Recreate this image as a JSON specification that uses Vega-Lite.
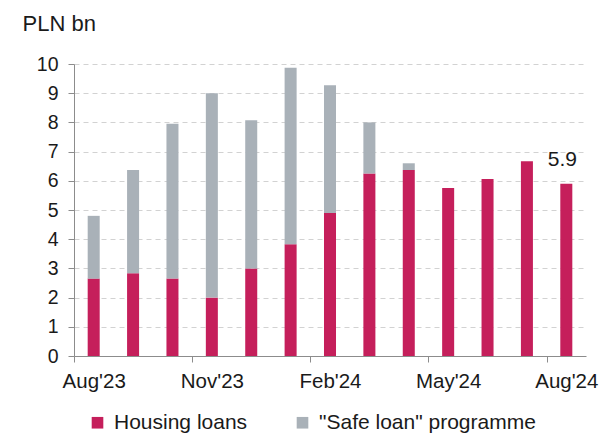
{
  "$schema": "https://vega.github.io/schema/vega-lite/v6.json",
  "autosize": "none",
  "width": 512,
  "height": 292,
  "padding": {"left": 74, "top": 64, "right": 19, "bottom": 78},
  "background": "white",
  "config": {
    "view": {"stroke": null},
    "font": "Liberation Sans",
    "axis": {
      "labelFont": "Liberation Sans",
      "labelFontSize": 20,
      "labelColor": "#1a1a1a",
      "domainColor": "#8c8c8c",
      "tickColor": "#8c8c8c",
      "tickSize": 6,
      "labelPadding": 9
    },
    "legend": {
      "labelFont": "Liberation Sans",
      "labelFontSize": 21,
      "labelColor": "#1a1a1a"
    }
  },
  "encoding": {
    "x": {
      "field": "month",
      "type": "ordinal",
      "sort": ["Aug'23","Sep'23","Oct'23","Nov'23","Dec'23","Jan'24","Feb'24","Mar'24","Apr'24","May'24","Jun'24","Jul'24","Aug'24"],
      "scale": {"paddingInner": 0.695, "paddingOuter": 0.3475},
      "axis": {
        "title": null,
        "labelAngle": 0,
        "values": ["Aug'23","Nov'23","Feb'24","May'24","Aug'24"],
        "bandPosition": 0.5,
        "tickOffset": -19.7,
        "labelOffset": 19.7,
        "labelFontSize": 20.5,
        "labelOverlap": false,
        "grid": false
      }
    },
    "y": {
      "field": "value",
      "type": "quantitative",
      "stack": "zero",
      "scale": {"domain": [0, 10], "nice": false},
      "axis": {
        "values": [0,1,2,3,4,5,6,7,8,9,10],
        "tickCount": 20,
        "format": "d",
        "labelOverlap": false,
        "labelFontSize": 19.5,
        "grid": true,
        "gridDash": [5, 4],
        "gridColor": "#d2d2d2",
        "labelPadding": 10,
        "title": "PLN bn",
        "titleAngle": 0,
        "titleAlign": "left",
        "titleBaseline": "alphabetic",
        "titleX": -52,
        "titleY": -34,
        "titleFont": "Liberation Sans",
        "titleFontSize": 22,
        "titleFontWeight": "normal",
        "titleColor": "#1a1a1a"
      }
    }
  },
  "layer": [
    {
      "data": {
        "values": [
          {"month": "Aug'23", "series": "Housing loans", "value": 2.65},
          {"month": "Aug'23", "series": "\"Safe loan\" programme", "value": 2.15},
          {"month": "Sep'23", "series": "Housing loans", "value": 2.83},
          {"month": "Sep'23", "series": "\"Safe loan\" programme", "value": 3.54},
          {"month": "Oct'23", "series": "Housing loans", "value": 2.65},
          {"month": "Oct'23", "series": "\"Safe loan\" programme", "value": 5.3},
          {"month": "Nov'23", "series": "Housing loans", "value": 2.0},
          {"month": "Nov'23", "series": "\"Safe loan\" programme", "value": 7.0},
          {"month": "Dec'23", "series": "Housing loans", "value": 3.0},
          {"month": "Dec'23", "series": "\"Safe loan\" programme", "value": 5.07},
          {"month": "Jan'24", "series": "Housing loans", "value": 3.83},
          {"month": "Jan'24", "series": "\"Safe loan\" programme", "value": 6.04},
          {"month": "Feb'24", "series": "Housing loans", "value": 4.9},
          {"month": "Feb'24", "series": "\"Safe loan\" programme", "value": 4.37},
          {"month": "Mar'24", "series": "Housing loans", "value": 6.25},
          {"month": "Mar'24", "series": "\"Safe loan\" programme", "value": 1.75},
          {"month": "Apr'24", "series": "Housing loans", "value": 6.37},
          {"month": "Apr'24", "series": "\"Safe loan\" programme", "value": 0.23},
          {"month": "May'24", "series": "Housing loans", "value": 5.75},
          {"month": "Jun'24", "series": "Housing loans", "value": 6.06},
          {"month": "Jul'24", "series": "Housing loans", "value": 6.67},
          {"month": "Aug'24", "series": "Housing loans", "value": 5.9}
        ]
      },
      "mark": {"type": "bar"},
      "encoding": {
        "color": {
          "field": "series",
          "type": "nominal",
          "scale": {
            "domain": ["Housing loans", "\"Safe loan\" programme"],
            "range": ["#c51f5b", "#a9b1b8"]
          },
          "legend": {
            "title": null,
            "orient": "none",
            "direction": "horizontal",
            "legendX": 13,
            "legendY": 348,
            "symbolType": "square",
            "symbolSize": 135,
            "symbolStrokeWidth": 0,
            "labelOffset": 6,
            "columnPadding": 44,
            "labelLimit": 400,
            "padding": 0
          }
        },
        "order": {"field": "series", "sort": "descending"}
      }
    },
    {
      "data": {"values": [{"month": "Aug'24", "value": 5.9, "label": "5.9"}]},
      "mark": {"type": "text", "baseline": "alphabetic", "align": "center", "dx": -4, "dy": -18, "fontSize": 21, "font": "Liberation Sans", "color": "#1a1a1a"},
      "encoding": {
        "text": {"field": "label"}
      }
    }
  ]
}
